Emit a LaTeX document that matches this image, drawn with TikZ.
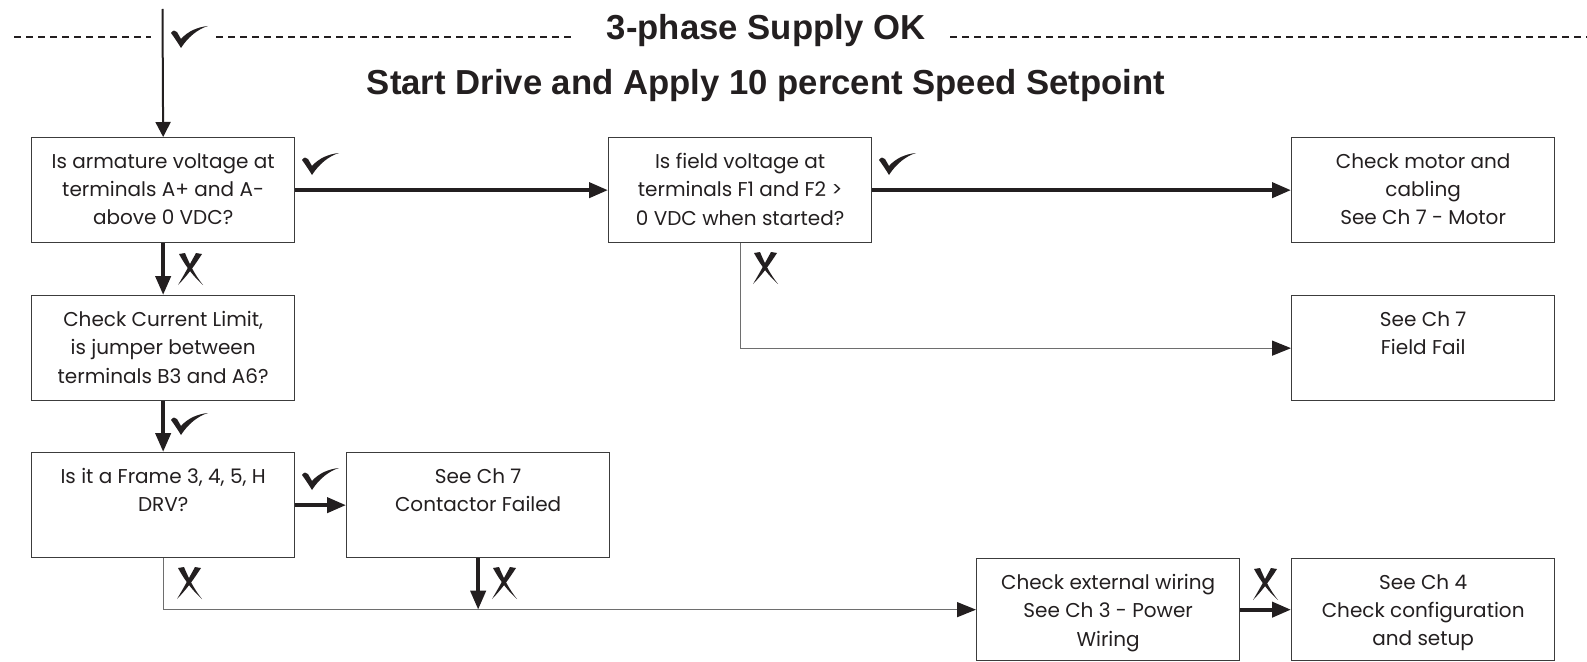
\documentclass[tikz,border=0pt]{standalone}
\usepackage{fontspec}
\setmainfont{Liberation Sans}
\newfontfamily\boxfont{Poppins}
\usetikzlibrary{arrows.meta,calc}
\definecolor{ink}{HTML}{231F20}
\definecolor{edge}{HTML}{3C3C3C}
\definecolor{thinc}{HTML}{6E6E6E}
\begin{document}
\begin{tikzpicture}[x=1bp,y=-1bp,
  box/.style={draw=edge,line width=1.3bp,minimum width=263bp,minimum height=105bp,inner sep=0pt,anchor=north west},
  lowbox/.style={box,minimum height=102bp},
  txt/.style={font=\boxfont\fontsize{20bp}{28.3bp}\selectfont,align=center,anchor=north,inner sep=0pt,text=ink},
  head/.style={font=\bfseries\fontsize{34.7bp}{40bp}\selectfont,anchor=base,inner sep=0pt,text=ink},
  thick/.style={line width=4bp,draw=ink,-{Triangle[length=19bp,width=15bp]}},
  thinarr/.style={line width=1.3bp,draw=thinc,-{Triangle[length=19bp,width=15bp,color=ink]}},
  sep/.style={draw=ink,line width=2bp,dash pattern=on 7bp off 5bp},
  chk/.pic={\fill[ink] (0,7) .. controls (2,4) and (4,4) .. (6,6) -- (10,13) .. controls (17,5) and (27,1) .. (37,0) .. controls (27,3) and (17,11) .. (10,22) .. controls (7,17) and (3,11) .. (0,7) -- cycle;},
  xmk/.pic={\fill[ink] (1,1) -- (7,0) .. controls (12,12) and (17,22) .. (25,32) .. controls (16,24) and (8,14) .. (1,1) -- cycle;
            \fill[ink] (18,0) -- (24,1) .. controls (17,12) and (9,23) .. (0,32) .. controls (6,22) and (12,11) .. (18,0) -- cycle;}
]
\useasboundingbox (0,0) rectangle (1587,662);

% header
\node[head] (title) at (766,40) {3-phase Supply OK};
\node[head] (sub) at (766,95) {Start Drive and Apply 10 percent Speed Setpoint};
\draw[sep] (14,37) -- (151,37);
\draw[sep] (216,37) -- (575,37);
\draw[sep] (950,37) -- (1587,37);

% boxes
\node[box] (A) at (31,137) {};
\node[box] (F) at (608,137) {};
\node[box] (M) at (1291,137) {};
\node[box] (FF) at (1291,295) {};
\node[box] (B) at (31,295) {};
\node[box] (Fr) at (31,452) {};
\node[box] (C) at (346,452) {};
\node[lowbox] (E) at (976,558) {};
\node[lowbox] (G) at (1291,558) {};

% texts
\node[txt] (At) at ($(A.north)+(0,16)$) {Is armature voltage at\\terminals A+ and A-\\above 0 VDC?};
\node[txt] (Ft) at ($(F.north)+(0,16)$) {Is field voltage at\\terminals F1 and F2 >\\0 VDC when started?};
\node[txt] (Mt) at ($(M.north)+(0,16)$) {Check motor and\\cabling\\See Ch 7 - Motor};
\node[txt] (FFt) at ($(FF.north)+(0,16)$) {See Ch 7\\Field Fail};
\node[txt] (Bt) at ($(B.north)+(0,16)$) {Check Current Limit,\\is jumper between\\terminals B3 and A6?};
\node[txt] (Frt) at ($(Fr.north)+(0,16)$) {Is it a Frame 3, 4, 5, H\\DRV?};
\node[txt] (Ct) at ($(C.north)+(0,16)$) {See Ch 7\\Contactor Failed};
\node[txt] (Et) at ($(E.north)+(0,16)$) {Check external wiring\\See Ch 3 - Power\\Wiring};
\node[txt] (Gt) at ($(G.north)+(0,16)$) {See Ch 4\\Check configuration\\and setup};

% connectors
\coordinate (top) at (162.5,9);
\draw[line width=2bp,draw=ink,-{Triangle[length=15bp,width=15bp]}] (top) -- (A.north);
\draw[thick] (A.east) -- (F.west);
\draw[thick] (F.east) -- (M.west);
\draw[thinarr] (F.south) |- (FF.west);
\draw[thick] (A.south) -- (B.north);
\draw[thick] (B.south) -- (Fr.north);
\draw[thick] (Fr.east) -- (C.west);
\draw[thinarr] (Fr.south) |- (E.west);
\draw[thick] (C.south) -- (C.south |- E.west);
\draw[thick] (E.east) -- (G.west);

% marks
\pic at (171,26) {chk};
\pic at (302,153) {chk};
\pic at (879,153) {chk};
\pic at (171,413) {chk};
\pic at (302,468) {chk};
\pic at (178,253) {xmk};
\pic at (753,252) {xmk};
\pic at (177,567) {xmk};
\pic at (492,567) {xmk};
\pic at (1253,568) {xmk};
\end{tikzpicture}
\end{document}
